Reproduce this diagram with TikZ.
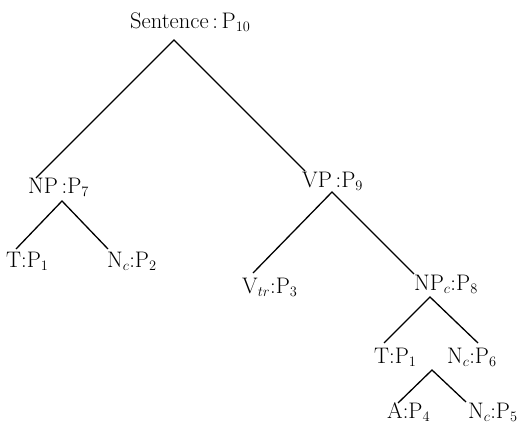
\documentclass[tikz,border=0pt]{standalone}
\begin{document}
\begin{tikzpicture}[x=1pt,y=-1pt,
  lab/.style={inner sep=0pt,anchor=base west,font=\fontsize{22.5}{26}\selectfont},
  edge/.style={line width=1.3pt}]
\useasboundingbox (0,0) rectangle (521,423);
% labels
\node[lab] (S) at (130,28) {Sentence\,:\,P$_{10}$};
\node[lab] (NP) at (28,193) {NP\,:P$_7$};
\node[lab] (VP) at (302,187) {VP\,:P$_9$};
\node[lab] (T1) at (6,267) {T:P$_1$};
\node[lab] (N2) at (107,267) {N$_c$:P$_2$};
\node[lab] (V3) at (242,293) {V$_{tr}$:P$_3$};
\node[lab] (NP8) at (414,290) {NP$_c$:P$_8$};
\node[lab] (T1b) at (374,363) {T:P$_1$};
\node[lab] (N6) at (447,363) {N$_c$:P$_6$};
\node[lab] (A4) at (387,418) {A:P$_4$};
\node[lab] (N5) at (468,418) {N$_c$:P$_5$};
% apexes and ends
\coordinate (aS) at (174,40);
\coordinate (eNP) at (36,178);
\coordinate (eVP) at (305,171);
\coordinate (aNP) at (62,201);
\coordinate (eT1) at (16,249);
\coordinate (eN2) at (108,249);
\coordinate (aVP) at (332,192);
\coordinate (eV3) at (253,273);
\coordinate (eNP8) at (414,274);
\coordinate (aNP8) at (430,297);
\coordinate (eT1b) at (384,343);
\coordinate (eN6) at (478,343);
\coordinate (aN6) at (432,370);
\coordinate (eA4) at (398,403);
\coordinate (eN5) at (466,402);
\draw[edge] (eNP) -- (aS) -- (eVP);
\draw[edge] (eT1) -- (aNP) -- (eN2);
\draw[edge] (eV3) -- (aVP) -- (eNP8);
\draw[edge] (eT1b) -- (aNP8) -- (eN6);
\draw[edge] (eA4) -- (aN6) -- (eN5);
\end{tikzpicture}
\end{document}
